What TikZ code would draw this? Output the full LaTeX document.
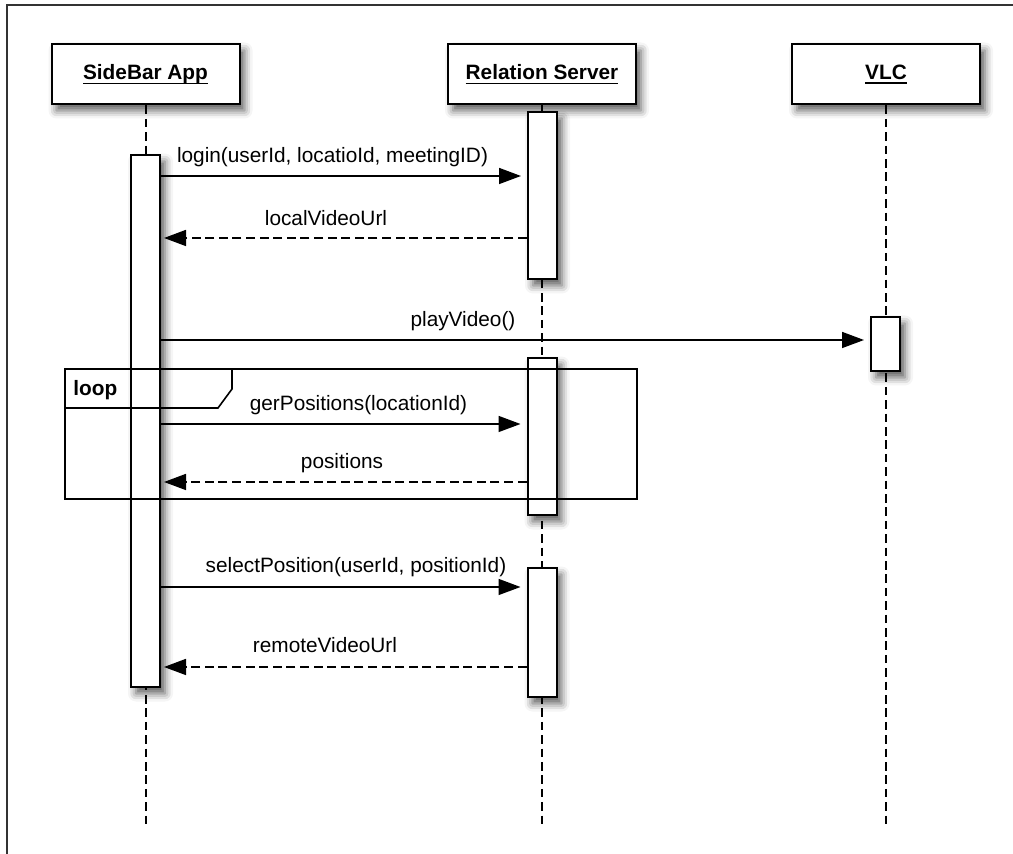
\documentclass[tikz,border=0pt]{standalone}
\usepackage{fontspec}
\setmainfont{Liberation Sans}
\usetikzlibrary{arrows.meta,shadows.blur}

% underlined participant name, rule set a little below the baseline
\newcommand\hdrline[1]{\setbox0\hbox{#1}\rlap{\rule[-2.2pt]{\wd0}{0.85pt}}\box0}

\begin{document}
\begin{tikzpicture}[x=0.5pt,y=-0.5pt,
  font=\fontsize{10.4pt}{12pt}\selectfont,
  shade/.style={blur shadow={shadow xshift=2.5pt,shadow yshift=-3pt,shadow blur radius=4pt,shadow opacity=65}},
  actor/.style={draw=black,line width=1pt,fill=white,minimum width=94pt,minimum height=30pt,
    inner sep=0pt,font=\fontsize{10.4pt}{12pt}\selectfont\bfseries,shade},
  activation/.style={draw=black,line width=1pt,fill=white,minimum width=14.5pt,inner sep=0pt,shade},
  lifeline/.style={line width=1pt,dash pattern=on 4.3pt off 2.4pt},
  call/.style={line width=0.8pt,-{Triangle[length=11pt,width=8pt]}},
  reply/.style={call,dash pattern=on 4.5pt off 2.3pt},
  msglabel/.style={anchor=base,inner sep=0pt},
  frame/.style={line width=0.8pt,draw=black},
]
\useasboundingbox (0,0) rectangle (1013,854);
% page border (top and left edges)
\draw[line width=0.8pt,draw=black!80] (7,854) -- (7,5) -- (1013,5);

% participants
\node[actor] (app) at (145.5,74.5) {\hdrline{SideBar App}};
\node[actor] (srv) at (542,74.5) {\hdrline{Relation Server}};
\node[actor] (vlc) at (886,74.5) {\hdrline{VLC}};

% lifelines
\coordinate (appEnd) at (145.5,828);
\coordinate (srvEnd) at (542,828);
\coordinate (vlcEnd) at (886,828);
\draw[lifeline] (app.south) -- (appEnd);
\draw[lifeline] (srv.south) -- (srvEnd);
\draw[lifeline] (vlc.south) -- (vlcEnd);

% activation bars
\node[activation,minimum height=266pt] (appAct) at (145.5,421.5) {};
\node[activation,minimum height=83.5pt] (srvA) at (542.5,196) {};
\node[activation,minimum height=78.5pt] (srvB) at (542,437) {};
\node[activation,minimum height=64.5pt] (srvC) at (542,633) {};
\node[activation,minimum height=27pt] (vlcA) at (885.5,344.5) {};

% message rows
\coordinate (y1) at (0,176);
\coordinate (y2) at (0,238);
\coordinate (y3) at (0,340);
\coordinate (y4) at (0,424);
\coordinate (y5) at (0,482);
\coordinate (y6) at (0,587);
\coordinate (y7) at (0,667);

\draw[call,shorten >=3pt] (appAct.east |- y1) -- (srvA.west |- y1);
\node[msglabel] (l1) at (332.5,163) {login(userId, locatioId, meetingID)};

\draw[reply,shorten >=1.5pt] (srvA.west |- y2) -- (appAct.east |- y2);
\node[msglabel] (l2) at (326,226) {localVideoUrl};

\draw[call,shorten >=3pt] (appAct.east |- y3) -- (vlcA.west |- y3);
\node[msglabel] (l3) at (463,327) {playVideo()};

\draw[call,shorten >=3pt] (appAct.east |- y4) -- (srvB.west |- y4);
\node[msglabel] (l4) at (358.5,411) {gerPositions(locationId)};

\draw[reply,shorten >=1.5pt] (srvB.west |- y5) -- (appAct.east |- y5);
\node[msglabel] (l5) at (342,469) {positions};

\draw[call,shorten >=3pt] (appAct.east |- y6) -- (srvC.west |- y6);
\node[msglabel] (l6) at (356,573) {selectPosition(userId, positionId)};

\draw[reply,shorten >=1.5pt] (srvC.west |- y7) -- (appAct.east |- y7);
\node[msglabel] (l7) at (325,653) {remoteVideoUrl};

% loop combined fragment
\draw[frame] (65,369) rectangle (637,499);
\draw[frame] (65,408) -- (218,408) -- (232,389) -- (232,369);
\node[anchor=base west,inner sep=0pt,font=\fontsize{10.4pt}{12pt}\selectfont\bfseries] (loopTag) at (73,396) {loop};
\end{tikzpicture}
\end{document}
